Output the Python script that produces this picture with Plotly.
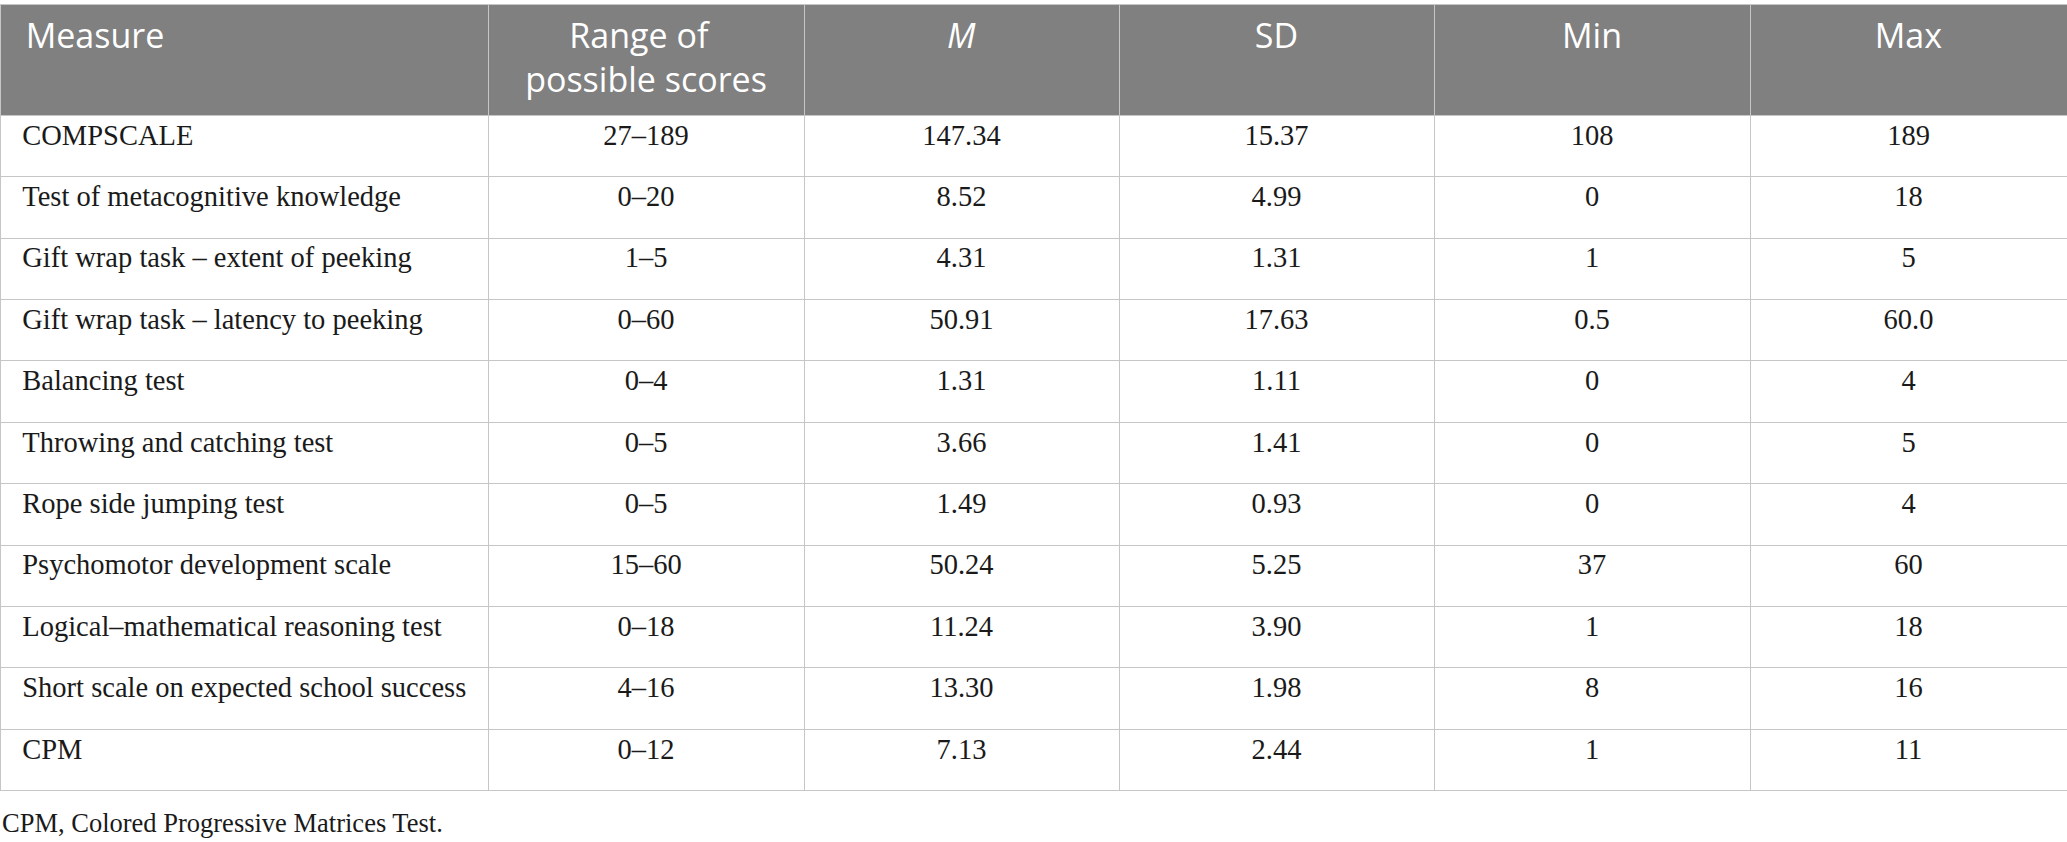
import plotly.graph_objects as go

# table data
measures = [
    "COMPSCALE",
    "Test of metacognitive knowledge",
    "Gift wrap task \u2013 extent of peeking",
    "Gift wrap task \u2013 latency to peeking",
    "Balancing test",
    "Throwing and catching test",
    "Rope side jumping test",
    "Psychomotor development scale",
    "Logical\u2013mathematical reasoning test",
    "Short scale on expected school success",
    "CPM",
]
score_range = ["27\u2013189", "0\u201320", "1\u20135", "0\u201360", "0\u20134", "0\u20135",
               "0\u20135", "15\u201360", "0\u201318", "4\u201316", "0\u201312"]
mean = ["147.34", "8.52", "4.31", "50.91", "1.31", "3.66", "1.49", "50.24", "11.24", "13.30", "7.13"]
sd = ["15.37", "4.99", "1.31", "17.63", "1.11", "1.41", "0.93", "5.25", "3.90", "1.98", "2.44"]
mins = ["108", "0", "1", "0.5", "0", "0", "0", "37", "1", "8", "1"]
maxs = ["189", "18", "5", "60.0", "4", "5", "4", "60", "18", "16", "11"]

headers = ["Measure", "Range of<br>possible scores", "<i>M</i>", "SD", "Min", "Max"]
footnote = "CPM, Colored Progressive Matrices Test."

line_col = "#c6c6c6"
NB = "\u00a0"

# every header gets two lines so they all sit on the same baseline;
# the short line of the range header is padded so it looks centred
head_vals = []
for i, h in enumerate(headers):
    if i == 0:
        h = NB * 2 + h
    if "<br>" in h:
        a, b = h.split("<br>")
        h = NB * 5 + a + "<br>" + b
    else:
        h = h + "<br>" + NB
    head_vals.append(h)

body_vals = [[NB * 2 + m for m in measures], score_range, mean, sd, mins, maxs]

fig = go.Figure(go.Table(
    columnwidth=[488, 316, 315, 315, 316, 317],
    header=dict(
        values=head_vals,
        fill_color="#7f807f",
        line_color=line_col,
        align=["left", "center", "center", "center", "center", "center"],
        font=dict(family="Open Sans", size=34, color="white"),
        height=111,
    ),
    cells=dict(
        values=body_vals,
        fill_color="white",
        line_color=line_col,
        align=["left", "center", "center", "center", "center", "center"],
        font=dict(family="Liberation Serif", size=28.5, color="#1a1a1a"),
        height=61.4,
    ),
    domain=dict(x=[0, 1], y=[0.03, 0.995]),
))

fig.add_annotation(
    text=footnote, x=0, y=0.0, xref="paper", yref="paper",
    xanchor="left", yanchor="bottom", showarrow=False,
    font=dict(family="Liberation Serif", size=26.5, color="#1a1a1a"),
)

fig.update_layout(
    width=2067, height=842,
    margin=dict(l=0, r=0, t=0, b=2),
    paper_bgcolor="white",
)

fig.write_html("out.html", config={"displayModeBar": False},
               post_script="document.body.style.margin='0';")
